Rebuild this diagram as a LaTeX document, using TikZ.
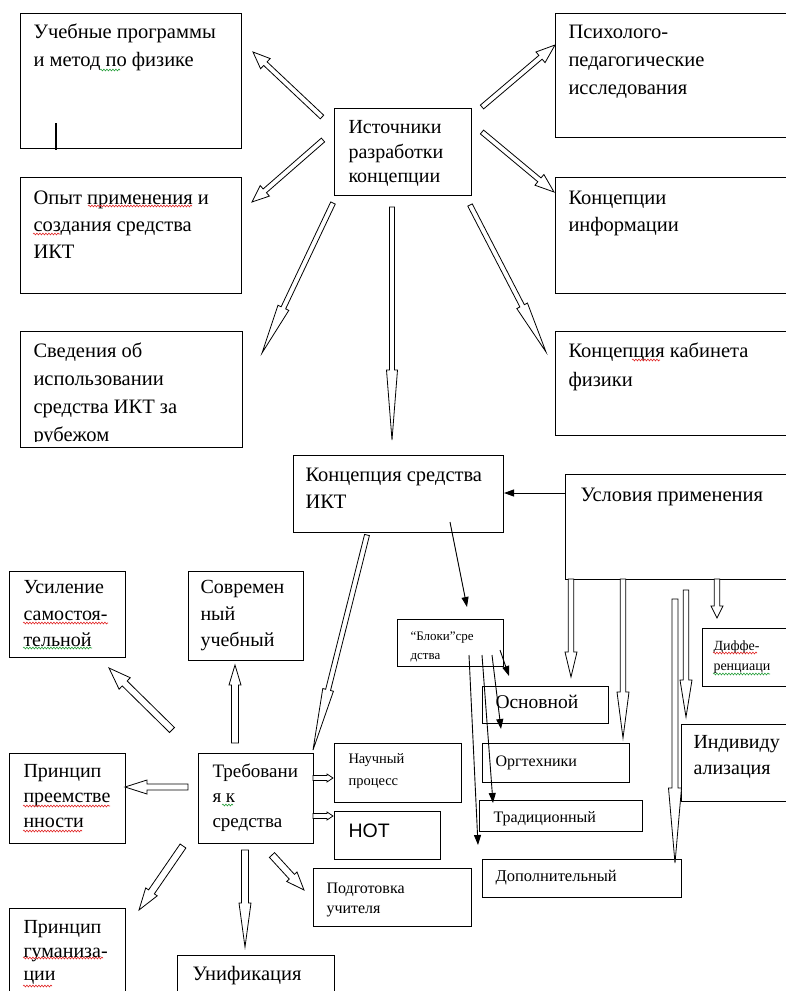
\documentclass[tikz,border=0pt]{standalone}
\usepackage{fontspec}
\setmainfont{Liberation Serif}
\newfontfamily\sansf{Liberation Sans}
\usetikzlibrary{calc,arrows.meta,decorations.pathmorphing}

\definecolor{wavered}{RGB}{225,40,40}
\definecolor{wavegreen}{RGB}{40,160,60}

% width, height, left pad, first baseline, text
\newcommand\cell[5]{\parbox[t][#2pt][t]{#1pt}{\leftskip=#3pt\rightskip=0pt plus 1fil\rule{0pt}{#4pt}#5}}

% from, to, shaft half width, head half width, head length
\newcommand\fatarrow[5]{%
  \coordinate (fa-h) at ($(#2)!#5!(#1)$);
  \draw[fat] ($(#1)!#3!90:(#2)$) -- ($(fa-h)!#3!90:(#2)$) -- ($(fa-h)!#4!90:(#2)$) -- (#2)
    -- ($(fa-h)!#4!-90:(#2)$) -- ($(fa-h)!#3!-90:(#2)$) -- ($(#1)!#3!-90:(#2)$) -- cycle;}

\tikzset{
  box/.style={draw, line width=1pt, inner sep=0pt, anchor=north west, font=\fontsize{20.5}{28}\selectfont},
  fat/.style={draw, fill=white, line width=0.8pt, line join=miter},
  thinarr/.style={line width=0.9pt, -{Triangle[length=10pt,width=7pt]}},
  squig/.style={line width=0.6pt, decorate, decoration={snake, amplitude=0.9pt, segment length=3pt}},
  redsq/.style={squig, wavered},
  greensq/.style={squig, wavegreen},
}

\begin{document}
\begin{tikzpicture}[x=1pt,y=-1pt]
  \useasboundingbox (0,0) rectangle (786,991);
  \clip (0,0) rectangle (786,991);

  % sources
  \node[box] (ucheb) at (20,13) {\cell{221}{135}{13}{25}{Учебные программы\\и метод по физике}};
  \draw[line width=1.6pt] (56,123) -- (56,150);
  \node[box, font=\fontsize{20.5}{27}\selectfont] (opyt) at (20,177) {\cell{221}{116}{13}{27}{Опыт применения и\\создания средства\\ИКТ}};
  \begin{scope}
    \clip (20,331) rectangle (241,441);
    \node[box, draw=none] (sved) at (20,331) {\cell{221}{115}{13}{26}{Сведения об\\использовании\\средства ИКТ за\\рубежом}};
  \end{scope}
  \draw[line width=1pt] (sved.north west) rectangle (sved.south east);
  \node[box, font=\fontsize{20}{24.5}\selectfont] (ist) at (334,108) {\cell{137}{87}{14}{25}{Источники\\разработки\\концепции}};
  \node[box] (psych) at (555,13) {\cell{245}{124}{13}{25}{Психолого-\\педагогические\\исследования}};
  \node[box, font=\fontsize{20.5}{27}\selectfont] (kinf) at (555,177) {\cell{245}{116}{13}{27}{Концепции\\информации}};
  \node[box, font=\fontsize{20.5}{29}\selectfont] (kab) at (555,331) {\cell{245}{104}{13}{26}{Концепция кабинета\\физики}};

  % concept
  \node[box, font=\fontsize{20.5}{27}\selectfont] (konc) at (293,455) {\cell{210}{77}{12}{26}{Концепция средства\\ИКТ}};
  \node[box] (usl) at (565,474) {\cell{235}{105}{15}{27}{Условия применения}};
  \node[box, font=\fontsize{13}{19}\selectfont] (blok) at (397,619) {\cell{106}{47}{13}{21}{“Блоки”сре\\дства}};
  \node[box, font=\fontsize{19.5}{24}\selectfont] (osn) at (482,686) {\cell{126}{37}{13}{22}{Основной}};
  \node[box, font=\fontsize{16}{20}\selectfont] (org) at (482,743) {\cell{147}{39}{13}{23}{Оргтехники}};
  \node[box, font=\fontsize{16}{20}\selectfont] (trad) at (479,800) {\cell{163}{31}{14}{22}{Традиционный}};
  \node[box, font=\fontsize{16.5}{20}\selectfont] (dop) at (482,859) {\cell{199}{38}{13}{22}{Дополнительный}};
  \node[box, font=\fontsize{14}{20}\selectfont] (diff) at (702,628) {\cell{98}{58}{11}{22}{Диффе-\\ренциаци}};
  \node[box, font=\fontsize{20}{26}\selectfont] (indiv) at (681,724) {\cell{119}{77}{12}{24}{Индивиду\\ализация}};

  % requirements
  \node[box, font=\fontsize{20}{26.5}\selectfont] (usil) at (9,571) {\cell{116}{86}{14}{22}{Усиление\\самостоя-\\тельной}};
  \node[box, font=\fontsize{20}{26.5}\selectfont] (sovr) at (188,571) {\cell{115}{89}{12}{22}{Современ\\ный\\учебный}};
  \node[box, font=\fontsize{19}{25}\selectfont] (treb) at (198,753) {\cell{115}{90}{14}{24}{Требовани\\я к\\средства}};
  \node[box, font=\fontsize{20}{25}\selectfont] (preem) at (9,753) {\cell{116}{90}{14}{24}{Принцип\\преемстве\\нности}};
  \node[box, font=\fontsize{20}{23.5}\selectfont] (guman) at (9,908) {\cell{116}{100}{14}{25}{Принцип\\гуманиза-\\ции}};
  \node[box] (unif) at (177,955) {\cell{157}{60}{15}{25}{Унификация}};
  \node[box, font=\fontsize{14.5}{22}\selectfont] (nauch) at (334,743) {\cell{127}{59}{14}{20}{Научный\\процесс}};
  \node[box, font=\sansf\fontsize{19.5}{24}\selectfont] (not) at (334,811) {\cell{106}{48}{14}{26}{НОТ}};
  \node[box, font=\fontsize{16}{20}\selectfont] (podg) at (313,868) {\cell{158}{58}{13}{25}{Подготовка\\учителя}};

  % spelling marks
  \draw[greensq] (100,70) -- (120,70);
  \draw[redsq] (88,206) -- (192,206);
  \draw[redsq] (33,234) -- (60,234);
  \draw[redsq] (632,360) -- (660,360);
  \draw[redsq] (23,623) -- (108,623);
  \draw[greensq] (23,648) -- (92,648);
  \draw[greensq] (222,805) -- (233,805);
  \draw[redsq] (23,806) -- (110,806);
  \draw[redsq] (23,831) -- (82,831);
  \draw[redsq] (23,958) -- (103,958);
  \draw[redsq] (23,986) -- (52,986);
  \draw[redsq] (713,653) -- (757,653);
  \draw[greensq] (713,674) -- (770,674);

  % hollow arrows
  \coordinate (ist1) at (322,117); \coordinate (ucheb-t) at (253,52);
  \coordinate (ist2) at (323,140); \coordinate (opyt-t) at (252,202);
  \coordinate (ist3) at (333,203); \coordinate (sved-t) at (262,353);
  \coordinate (ist4) at (392,207); \coordinate (konc-t) at (392,440);
  \coordinate (ist5) at (482,107); \coordinate (psych-t) at (555,45);
  \coordinate (ist6) at (482,132); \coordinate (kinf-t) at (554,192);
  \coordinate (ist7) at (470,205); \coordinate (kab-t) at (546,352);
  \fatarrow{ist1}{ucheb-t}{2.5pt}{7pt}{17pt}
  \fatarrow{ist2}{opyt-t}{2.5pt}{7pt}{17pt}
  \fatarrow{ist3}{sved-t}{2.5pt}{6pt}{50pt}
  \fatarrow{ist4}{konc-t}{2.5pt}{5.5pt}{70pt}
  \fatarrow{ist5}{psych-t}{2.5pt}{7pt}{19pt}
  \fatarrow{ist6}{kinf-t}{2.5pt}{7pt}{19pt}
  \fatarrow{ist7}{kab-t}{2.5pt}{6pt}{52pt}

  \coordinate (konc1) at (367,535); \coordinate (treb-t) at (313,750);
  \fatarrow{konc1}{treb-t}{2.5pt}{5.5pt}{62pt}

  \coordinate (usl1) at (571,579); \coordinate (osn-t) at (571,677);
  \coordinate (usl2) at (623,579); \coordinate (org-t) at (623,738);
  \coordinate (usl3) at (717,579); \coordinate (diff-t) at (717,618);
  \coordinate (usl4) at (686,590); \coordinate (indiv-t) at (686,717);
  \coordinate (usl5) at (675,599); \coordinate (dop-t) at (675,863);
  \fatarrow{usl1}{osn-t}{2.8pt}{6pt}{25pt}
  \fatarrow{usl2}{org-t}{2.8pt}{6pt}{46pt}
  \fatarrow{usl3}{diff-t}{2.8pt}{6pt}{12pt}
  \fatarrow{usl4}{indiv-t}{2.8pt}{6pt}{37pt}
  \fatarrow{usl5}{dop-t}{3pt}{6.5pt}{75pt}

  \coordinate (treb1) at (235,743); \coordinate (sovr-t) at (235,665);
  \coordinate (treb2) at (172,730); \coordinate (usil-t) at (109,668);
  \coordinate (treb3) at (188,787); \coordinate (preem-t) at (125,787);
  \coordinate (treb4) at (183,846); \coordinate (guman-t) at (139,910);
  \coordinate (treb5) at (245,850); \coordinate (unif-t) at (245,947);
  \coordinate (treb6) at (272,855); \coordinate (podg-t) at (304,890);
  \coordinate (treb7) at (313,778); \coordinate (nauch-t) at (333,778);
  \coordinate (treb8) at (313,816); \coordinate (not-t) at (333,816);
  \fatarrow{treb1}{sovr-t}{3.5pt}{6pt}{20pt}
  \fatarrow{treb2}{usil-t}{3.5pt}{8pt}{22pt}
  \fatarrow{treb3}{preem-t}{3pt}{7pt}{22pt}
  \fatarrow{treb4}{guman-t}{3.5pt}{7pt}{22pt}
  \fatarrow{treb5}{unif-t}{3.5pt}{6pt}{44pt}
  \fatarrow{treb6}{podg-t}{3.5pt}{7pt}{18pt}
  \fatarrow{treb7}{nauch-t}{2.5pt}{4pt}{6pt}
  \fatarrow{treb8}{not-t}{2.5pt}{4pt}{6pt}

  % thin arrows
  \draw[thinarr] ([yshift=-19pt]usl.north west) -- ([yshift=-38pt]konc.north east);
  \coordinate (konc2) at (450,522); \coordinate (blok-t) at (467,607);
  \draw[thinarr] (konc2) -- (blok-t);
  \coordinate (blok1) at (500,650); \coordinate (osn-a) at (509,676);
  \coordinate (blok2) at (492,655); \coordinate (org-a) at (501,729);
  \coordinate (blok3) at (482,655); \coordinate (trad-a) at (493,803);
  \coordinate (blok4) at (469,655); \coordinate (dop-a) at (478,845);
  \draw[thinarr] (blok1) -- (osn-a);
  \draw[thinarr] (blok2) -- (org-a);
  \draw[thinarr] (blok3) -- (trad-a);
  \draw[thinarr] (blok4) -- (dop-a);
\end{tikzpicture}
\end{document}
